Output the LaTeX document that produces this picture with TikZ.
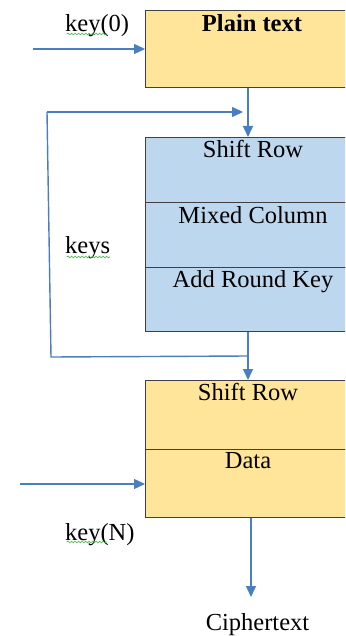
\documentclass[tikz,border=0pt]{standalone}
\usepackage{fontspec}
\setmainfont{Liberation Serif}
\usetikzlibrary{arrows.meta,decorations.pathmorphing}
\definecolor{goldfill}{RGB}{255,229,153}
\definecolor{bluefill}{RGB}{189,215,238}
\definecolor{edge}{RGB}{64,64,64}
\definecolor{flowline}{RGB}{74,126,190}
\definecolor{squig}{RGB}{60,180,60}
\tikzset{
  cell/.style={draw=edge, line width=1.3pt, anchor=north west, inner sep=0pt, minimum width=220pt},
  gold/.style={cell, fill=goldfill},
  bluecell/.style={cell, fill=bluefill},
  lab/.style={font=\fontsize{24.5}{29}\selectfont, inner sep=0pt, anchor=base},
  sidelab/.style={lab, anchor=base west},
  flow/.style={draw=flowline, line width=1.4pt, -{Triangle[length=11pt,width=10pt]}},
  plainflow/.style={draw=flowline, line width=1.4pt},
  spell/.style={draw=squig, line width=0.6pt, decorate, decoration={snake, amplitude=0.9pt, segment length=3.5pt}}
}
\begin{document}
\begin{tikzpicture}[x=1pt, y=-1pt]
\useasboundingbox (0,0) rectangle (345,636);
\clip (0,0) rectangle (345,636);

% boxes
\node[gold, minimum height=77pt] (plain) at (145,10) {};
\node[bluecell, minimum height=65pt] (shiftA) at (145,137) {};
\node[bluecell, minimum height=65pt] (mixcol) at (145,202) {};
\node[bluecell, minimum height=64pt] (addkey) at (145,267) {};
\node[gold, minimum height=69pt] (shiftB) at (145,380) {};
\node[gold, minimum height=68pt] (data) at (145,449) {};

% box texts
\node[lab] (plainT) at (252,32) {\textbf{Plain text}};
\node[lab] (shiftAT) at (253,158) {Shift Row};
\node[lab] (mixT) at (253,223) {Mixed Column};
\node[lab] (addT) at (253,287) {Add Round Key};
\node[lab] (shiftBT) at (248,400) {Shift Row};
\node[lab] (dataT) at (248,468) {Data};
\node[lab] (cipher) at (257.5,630) {Ciphertext};

% side labels
\node[sidelab] (key0) at (65,32) {key(0)};
\node[sidelab] (keys) at (65,253) {keys};
\node[sidelab] (keyN) at (65,540) {key(N)};
\draw[spell] (67,34) -- (107,34);
\draw[spell] (67,257) -- (110,257);
\draw[spell] (67,542) -- (107,542);

% free ends of the connectors
\coordinate (midx) at (248,0);
\coordinate (outx) at (251,0);
\coordinate (inA) at (33,49);
\coordinate (inB) at (20,484);
\coordinate (join) at (248,356);
\coordinate (loopBL) at (51,357);
\coordinate (loopTL) at (47,112);
\coordinate (loopTip) at (243,112);
\coordinate (outTip) at (251,597);

% connectors
\draw[flow] (inA) -- (inA -| plain.west);
\draw[flow] (plain.south west -| midx) -- (shiftA.north west -| midx);
\draw[flow] (addkey.south west -| midx) -- (shiftB.north west -| midx);
\draw[plainflow] (join) -- (loopBL) -- (loopTL);
\draw[flow] (loopTL) -- (loopTip);
\draw[flow] (inB) -- (inB -| data.west);
\draw[flow] (data.south west -| outx) -- (outTip);
\end{tikzpicture}
\end{document}
